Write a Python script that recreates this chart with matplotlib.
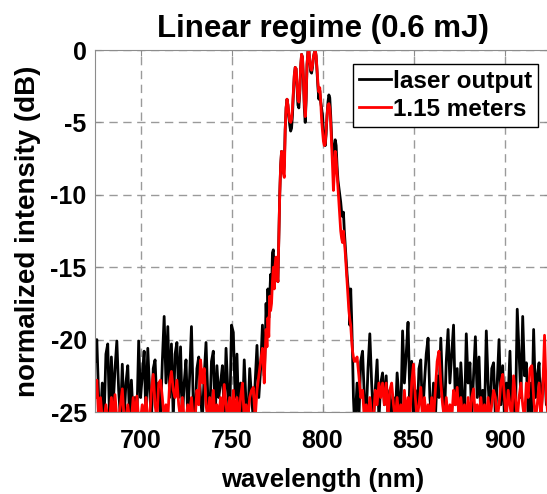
import numpy as np
import matplotlib.pyplot as plt

# spectra (dB); values below -25 are clipped by the axis
# noise floor left of the peak, 1 nm steps starting at 675 nm
laser_left = [
    -21.5, -20.0, -24.0, -25.5, -23.0, -25.5, -21.0, -20.3, -25.5, -21.2,
    -24.5, -22.0, -20.1, -23.5, -25.5, -21.7, -25.5, -23.0, -21.8, -25.5,
    -22.8, -25.5, -24.0, -25.5, -20.1, -24.0, -22.5, -20.8, -25.5, -20.6,
    -23.5, -25.5, -22.0, -21.4, -24.5, -23.0, -25.5, -21.5, -18.4, -23.0,
    -19.1, -24.0, -20.3, -25.5, -21.0, -20.2, -24.0, -20.5, -25.5, -23.0,
    -21.4, -25.5, -22.5, -19.1, -24.5, -25.5, -22.0, -21.2, -24.0, -25.5,
    -22.5, -20.2, -24.0, -25.5, -21.5, -20.8, -25.5, -21.8, -24.0, -23.0,
    -21.8, -25.5, -20.6, -23.5, -25.5, -19.0, -19.5, -24.0, -21.0, -25.5,
    -23.0, -25.5, -21.4, -24.5, -25.5, -22.0, -24.0, -25.5, -23.0, -20.4,
    -24.0, -22.0, -19.0,
]
fiber_left = [
    -24.0, -22.8, -25.5, -24.0, -25.5, -25.5, -24.5, -25.5, -25.5, -24.0,
    -25.5, -23.8, -25.5, -25.5, -24.5, -23.4, -25.5, -25.5, -24.5, -25.5,
    -25.5, -24.0, -25.5, -23.9, -25.5, -25.5, -24.5, -25.5, -24.0, -25.5,
    -25.5, -23.5, -22.4, -24.5, -25.5, -23.0, -22.8, -24.0, -25.5, -24.5,
    -25.5, -23.0, -22.2, -23.5, -24.0, -22.8, -24.5, -25.5, -24.0, -25.5,
    -25.5, -24.5, -25.5, -24.0, -25.5, -25.5, -23.5, -24.5, -21.4, -23.0,
    -22.0, -24.5, -25.5, -24.0, -25.5, -23.5, -25.5, -24.5, -25.5, -24.0,
    -25.5, -23.1, -24.5, -25.5, -24.0, -25.5, -23.5, -25.5, -24.0, -25.5,
    -24.0, -23.0, -25.5, -24.5, -25.5, -24.0, -23.5, -23.3, -25.5, -23.5,
    -22.5, -21.5, -20.6,
]

# main peak, 0.5 nm steps starting at 768 nm
laser_peak = [
    -22.5, -20.5, -17.5, -19.5, -16.5, -18.5, -17.0, -15.5, -16.8, -14.0,
    -13.8, -16.0, -15.0, -14.5, -15.5, -16.0, -13.0, -10.0, -8.0, -7.0,
    -7.3, -8.5, -8.0, -5.5, -4.0, -3.4, -3.8, -4.6, -5.2, -5.6,
    -5.4, -4.5, -3.0, -1.8, -1.2, -1.3, -2.5, -3.8, -4.0, -3.0,
    -1.2, -0.3, -0.5, -2.0, -4.0, -5.0, -3.5, -1.0, -0.1, 0.0,
    -0.8, -1.5, -1.6, -1.2, -0.5, -0.2, 0.0, -0.4, -1.5, -2.6,
    -3.4, -2.8, -3.6, -4.0, -4.5, -5.5, -6.2, -6.6, -5.8, -4.5,
    -3.6, -3.1, -3.3, -4.5, -6.0, -7.0, -7.6, -6.8, -6.2, -6.6,
    -8.0, -9.0, -9.5, -10.0, -10.5, -11.2, -11.5, -11.2, -12.5, -13.5,
    -14.5, -15.5, -16.3, -16.7, -19.0, -16.5, -18.5, -21.0, -24.0, -25.5,
]
fiber_peak = [
    -23.0, -21.0, -19.3, -20.5, -18.5, -19.8, -17.0, -18.0, -17.5, -16.0,
    -15.0, -16.5, -14.8, -14.3, -15.5, -16.0, -13.0, -10.0, -8.0, -7.0,
    -7.1, -8.5, -8.8, -5.5, -4.0, -3.4, -3.8, -4.4, -4.9, -5.0,
    -4.8, -4.0, -2.8, -1.7, -1.2, -1.3, -2.3, -3.4, -3.6, -2.8,
    -1.1, -0.3, -0.5, -1.8, -3.6, -4.6, -3.3, -1.0, -0.1, 0.0,
    -0.7, -1.3, -1.4, -1.1, -0.5, -0.2, 0.0, -0.4, -1.3, -2.3,
    -2.9, -2.6, -3.5, -4.8, -5.6, -6.3, -6.6, -6.5, -5.5, -4.5,
    -3.8, -3.7, -4.0, -5.0, -6.5, -8.0, -9.7, -8.5, -7.0, -7.5,
    -8.5, -9.5, -10.5, -11.5, -12.5, -13.0, -13.3, -12.5, -13.2, -14.0,
    -15.0, -16.0, -17.0, -18.0, -18.6, -19.0, -20.0, -20.8, -21.2, -21.5,
]

# noise floor right of the peak, 1 nm steps starting at 818 nm
laser_right = [
    -25.5, -23.0, -25.5, -21.5, -20.8, -24.0, -25.5, -22.0, -19.6, -23.0,
    -25.5, -23.5, -21.4, -25.5, -23.0, -22.3, -24.5, -22.5, -25.5, -23.5,
    -25.5, -24.0, -25.5, -22.3, -24.0, -25.5, -19.4, -23.0, -21.0, -18.8,
    -24.0, -21.5, -25.5, -23.5, -25.5, -22.0, -21.4, -25.5, -23.0, -21.0,
    -19.9, -24.0, -25.5, -23.0, -25.5, -22.5, -24.0, -19.9, -23.5, -25.5,
    -21.5, -19.3, -23.0, -21.0, -19.0, -24.5, -22.0, -25.5, -21.6, -24.0,
    -25.5, -19.6, -23.0, -21.6, -25.5, -22.5, -19.8, -24.0, -21.2, -25.5,
    -23.5, -25.5, -19.4, -23.0, -25.5, -22.0, -21.6, -25.5, -23.0, -20.0,
    -24.5, -21.8, -25.5, -23.0, -24.0, -20.8, -25.5, -23.0, -25.5, -17.9,
    -21.0, -24.0, -18.4, -22.5, -21.6, -25.5, -23.0, -25.5, -19.3, -24.0,
    -22.5, -21.6, -25.5, -23.0, -21.8, -24.5, -22.0, -25.5,
]
fiber_right = [
    -21.5, -21.2, -22.5, -24.0, -23.5, -25.5, -24.5, -25.5, -24.0, -25.5,
    -25.5, -23.5, -24.5, -23.0, -24.0, -23.0, -24.5, -23.0, -25.5, -23.5,
    -23.0, -24.5, -25.5, -24.0, -25.5, -24.5, -25.5, -23.5, -25.5, -24.0,
    -25.5, -23.0, -21.7, -24.0, -25.5, -24.5, -23.3, -25.5, -24.0, -25.5,
    -24.5, -25.5, -24.0, -25.5, -23.5, -21.5, -20.8, -23.0, -24.5, -25.5,
    -24.0, -25.5, -24.5, -25.5, -23.5, -24.5, -23.3, -25.5, -24.0, -25.5,
    -24.5, -25.5, -24.0, -25.5, -24.0, -23.4, -25.5, -24.5, -25.5, -24.0,
    -25.5, -24.5, -25.5, -24.0, -25.5, -24.5, -23.5, -24.0, -25.5, -24.5,
    -23.0, -22.4, -24.0, -25.5, -23.5, -24.5, -25.5, -22.5, -24.0, -25.5,
    -24.0, -23.0, -24.5, -25.5, -23.0, -24.0, -22.0, -21.8, -24.0, -25.5,
    -24.5, -23.0, -25.5, -23.6, -19.7, -24.0, -25.5, -24.0,
]


def assemble(left, peak, right):
    wl = np.concatenate([
        675 + np.arange(len(left)),
        768 + 0.5 * np.arange(len(peak)),
        818 + np.arange(len(right)),
    ])
    return wl, np.concatenate([left, peak, right])


plt.rcParams['font.family'] = ['Liberation Sans', 'DejaVu Sans']
plt.rcParams['font.weight'] = 'bold'
plt.rcParams['axes.unicode_minus'] = False

fig = plt.figure(figsize=(5.47, 4.94), dpi=100)
ax = fig.add_axes([95 / 547, 1 - 412 / 494, 455 / 547, 362 / 494])

wl, y = assemble(laser_left, laser_peak, laser_right)
ax.plot(wl, y, color='black', lw=2.0, label='laser output')
wl, y = assemble(fiber_left, fiber_peak, fiber_right)
ax.plot(wl, y, color='red', lw=2.0, label='1.15 meters')

ax.set_xlim(675, 925)
ax.set_ylim(-25, 0)
ax.set_xticks([700, 750, 800, 850, 900])
ax.set_yticks([0, -5, -10, -15, -20, -25])
ax.grid(True, ls=(0, (6, 4)), color='#9a9a9a', lw=1.0)
for s in ax.spines.values():
    s.set_color('#8c8c8c')
ax.tick_params(direction='in', length=4, color='#8c8c8c', top=True, right=True,
               labelsize=18)
ax.tick_params(axis='x', pad=12)
ax.tick_params(axis='y', pad=6)
for lab in ax.get_xticklabels() + ax.get_yticklabels():
    lab.set_fontweight('bold')

ax.set_title('Linear regime (0.6 mJ)', fontsize=22.5, fontweight='bold', pad=9)
ax.set_xlabel('wavelength (nm)', fontsize=18.5, fontweight='bold', labelpad=11)
ax.set_ylabel('normalized intensity (dB)', fontsize=20, fontweight='bold', labelpad=7)

leg = ax.legend(loc='upper right', bbox_to_anchor=(0.985, 0.975),
                prop={'weight': 'bold', 'size': 17.5}, handlelength=1.3,
                handletextpad=0.1, borderpad=0.25, labelspacing=0.2,
                borderaxespad=0.2, fancybox=False, framealpha=1)
leg.get_frame().set_edgecolor('black')
leg.get_frame().set_linewidth(1.0)

fig.savefig('out.png', dpi=100)
